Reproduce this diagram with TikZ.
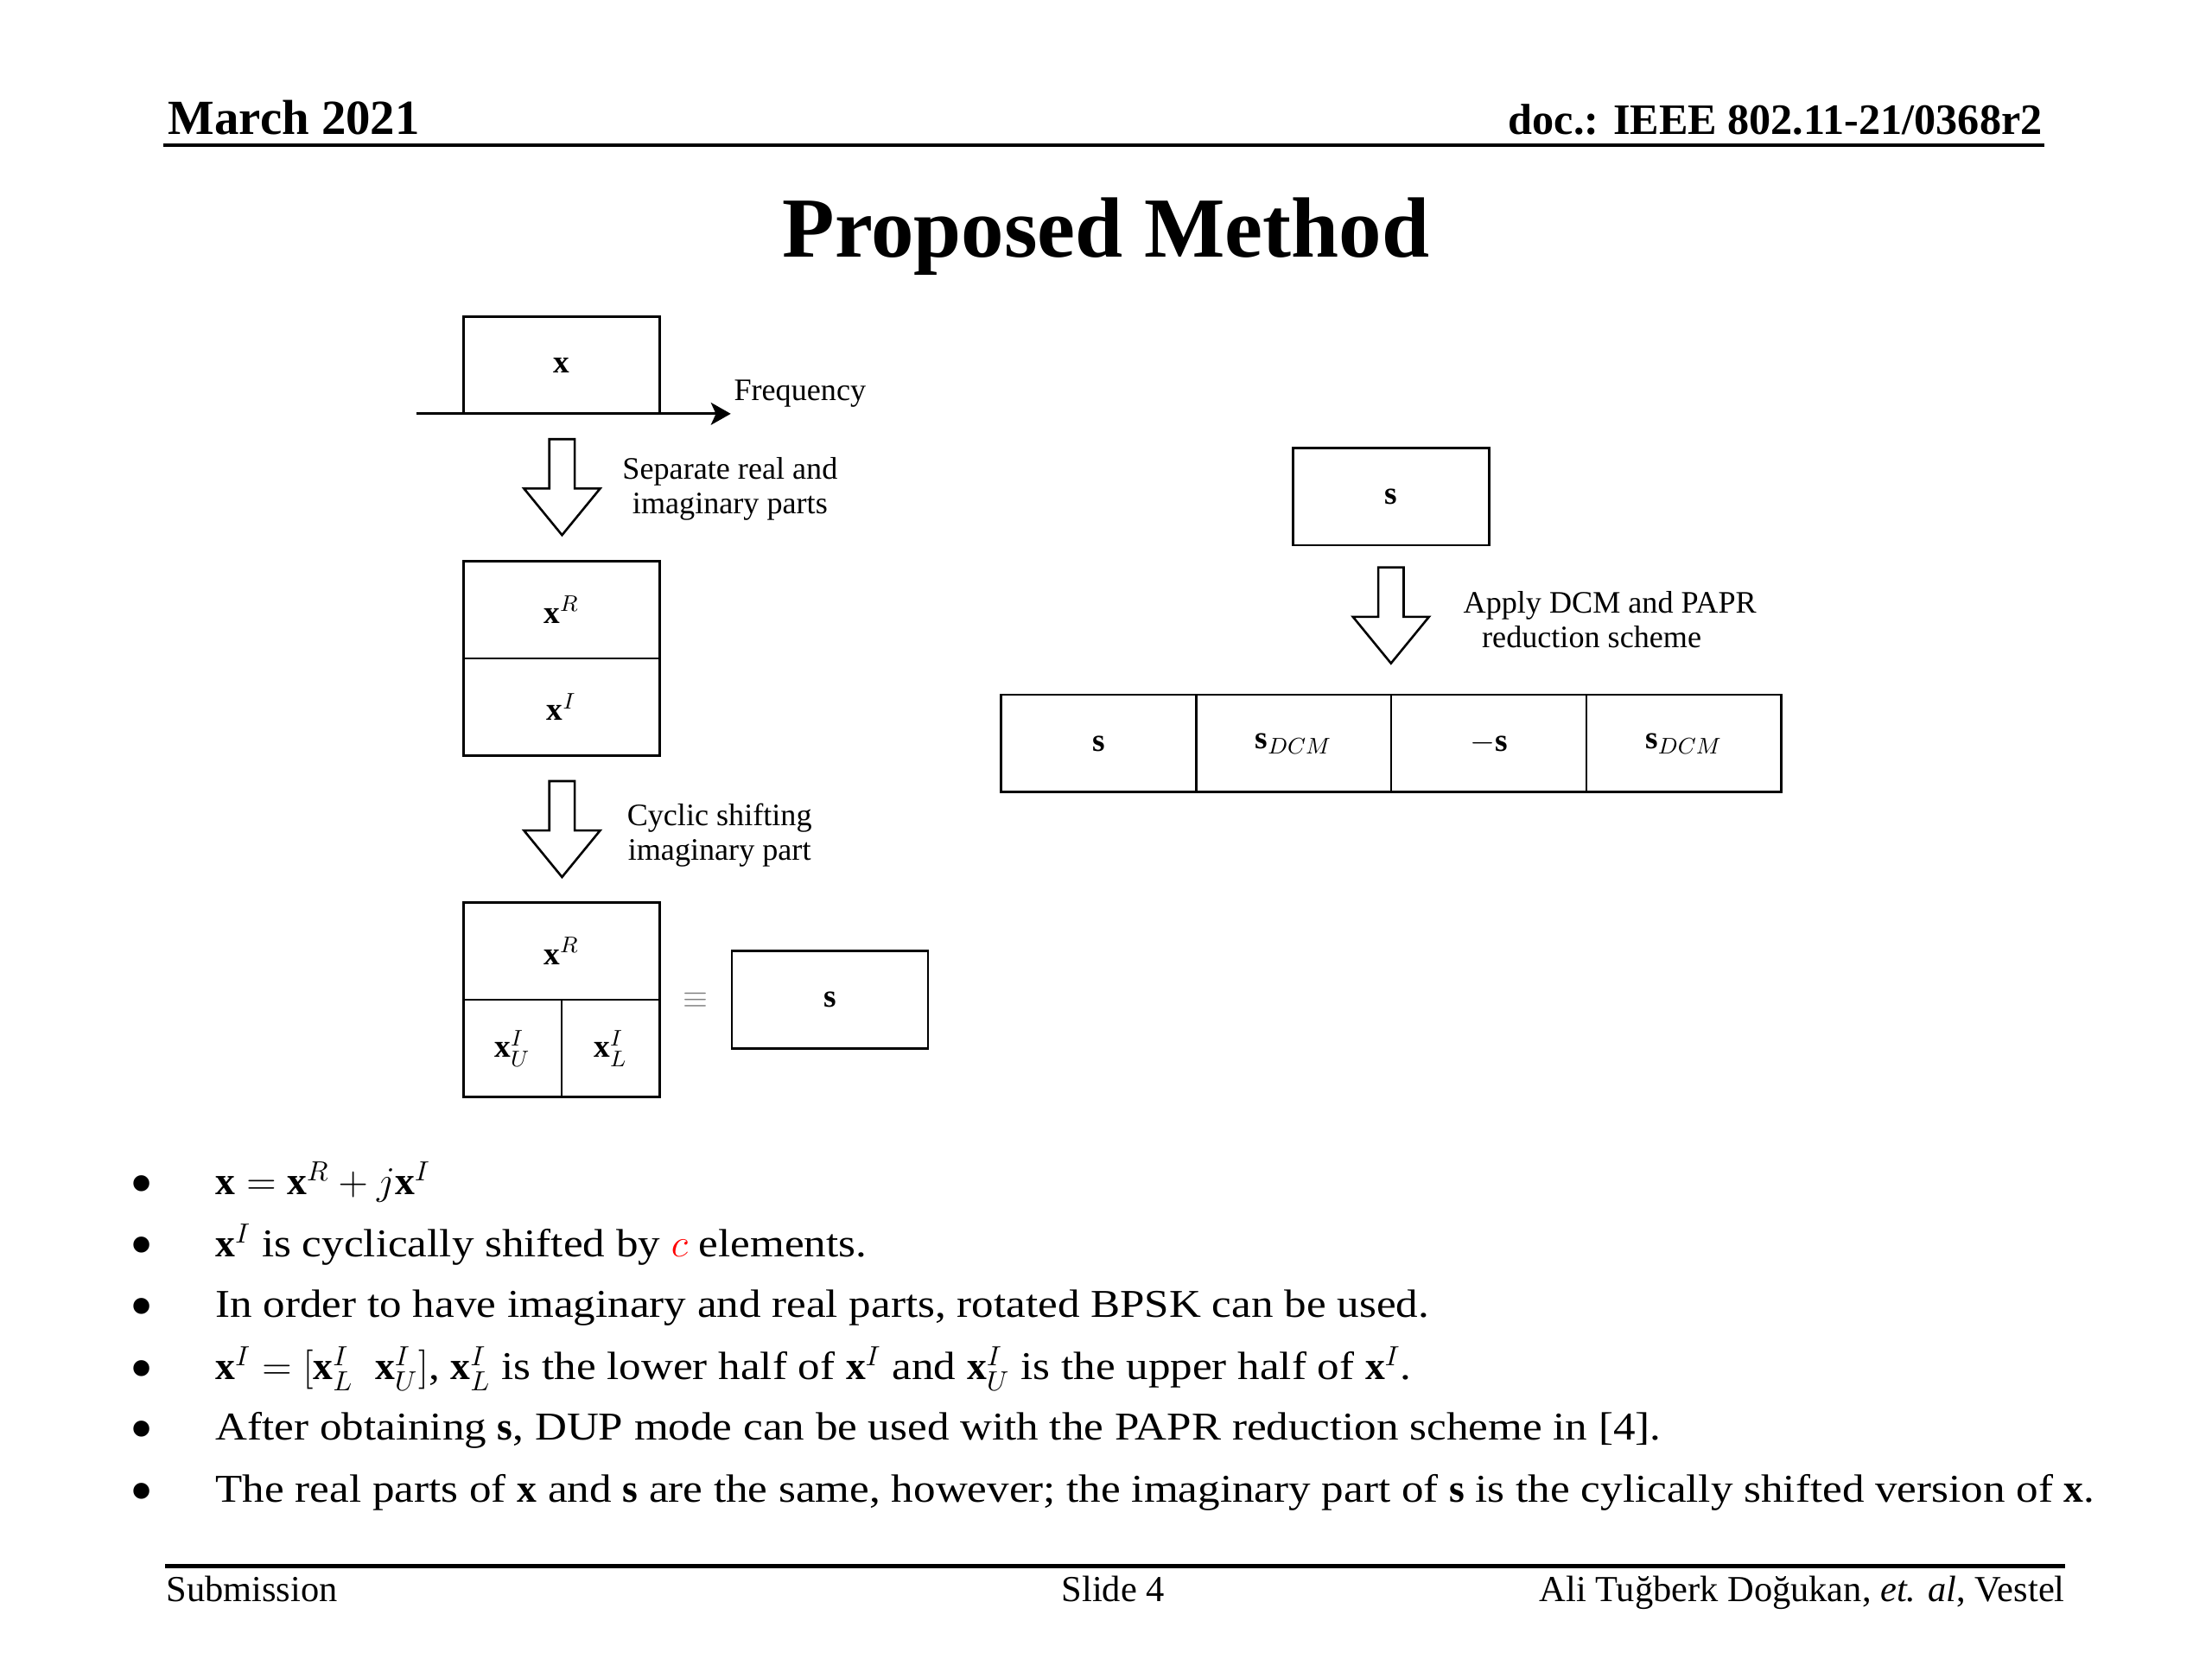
\RequirePackage{fix-cm}
\documentclass[tikz,border=0pt]{standalone}
\usepackage{amsmath,amssymb}
\usepackage{fontspec}
\setmainfont{Liberation Serif}
\newfontfamily\bulletfont[FakeStretch=1.12]{Liberation Serif}
\usetikzlibrary{arrows.meta}

\tikzset{
	dnarrow/.pic={\draw[line width=0.9pt, line join=miter] (-9,0) -- (9,0) -- (9,35) -- (27,35) -- (0,68) -- (-27,35) -- (-9,35) -- cycle;}
}

\begin{document}
\begin{tikzpicture}[x=0.02cm, y=-0.02cm, >={Stealth[length=8pt, width=9pt, inset=2pt]},
	cell/.style={draw, line width=0.9pt, minimum width=2.78cm, minimum height=1.38cm, inner sep=0pt, font=\fontsize{13}{13}\selectfont},
	halfcell/.style={cell, minimum width=1.39cm},
	rowcell/.style={cell, minimum width=2.766cm},
	lbl/.style={align=center, anchor=base, inner sep=0pt, font=\fontsize{12.6}{14}\selectfont},
	btxt/.style={anchor=base west, inner sep=0pt, font=\bulletfont\fontsize{15.9}{18}\selectfont},
	bdot/.style={anchor=base, inner sep=0pt, font=\fontsize{27}{28}\selectfont},
	hdr/.style={inner sep=0pt, font=\fontsize{14.8}{16}\selectfont}]
	\useasboundingbox (0,0) rectangle (1568,1176);
	\node[hdr, anchor=base west, font=\fontsize{19.8}{20}\selectfont\bfseries] (date) at (119,95.5) {March 2021};
	\node[hdr, anchor=base east, font=\fontsize{17.5}{18}\selectfont\bfseries] (doc) at (1448,95.5) {doc.: IEEE 802.11-21/0368r2};
	\draw[line width=1.4pt] (116,103) -- (1449,103);
	\node[anchor=base, font=\fontsize{34.5}{36}\selectfont\bfseries] (title) at (784,182) {Proposed Method};

	\node[cell] (x) at (398,258.8) {$\mathbf{x}$};
	\coordinate (fl) at (295,293.3);
	\coordinate (fr) at (518,293.3);
	\draw[->, line width=1pt] (fl) -- (fr);
	\node[lbl, anchor=base west] (freq) at (520,284) {Frequency};
	\pic at (398.4,311.3) {dnarrow};
	\node[lbl] (sep) at (517.5,364.4) {Separate real and\\imaginary parts};

	\node[cell] (xr) at (398,432.2) {$\mathbf{x}^R$};
	\node[cell] (xi) at (398,501.2) {$\mathbf{x}^I$};
	\pic at (398.4,553.7) {dnarrow};
	\node[lbl] (cyc) at (510,610) {Cyclic shifting\\imaginary part};

	\node[cell] (xr2) at (398,674.1) {$\mathbf{x}^R$};
	\node[halfcell] (xu) at (363.25,743.1) {$\mathbf{x}^I_U$};
	\node[halfcell] (xl) at (432.75,743.1) {$\mathbf{x}^I_L$};
	\node[text=gray, font=\fontsize{13}{13}\selectfont] (eq) at (493,709) {$\equiv$};
	\node[cell] (s) at (588.3,708.6) {$\mathbf{s}$};

	\node[cell] (s2) at (986,352.1) {$\mathbf{s}$};
	\pic at (986,402.2) {dnarrow};
	\node[lbl, align=left, anchor=base west] (dcm) at (1037,459) {Apply DCM and PAPR\\\hspace*{7.5pt}reduction scheme};
	\node[rowcell] (r1) at (778.7,527) {$\mathbf{s}$};
	\node[rowcell] (r2) at (917,527) {$\mathbf{s}_{DCM}$};
	\node[rowcell] (r3) at (1055.3,527) {$-\mathbf{s}$};
	\node[rowcell] (r4) at (1193.6,527) {$\mathbf{s}_{DCM}$};

	\node[bdot] (d1) at (100.5,854.5) {\textbullet};
	\node[bdot] (d2) at (100.5,898.5) {\textbullet};
	\node[bdot] (d3) at (100.5,941.5) {\textbullet};
	\node[bdot] (d4) at (100.5,985.5) {\textbullet};
	\node[bdot] (d5) at (100.5,1028.5) {\textbullet};
	\node[bdot] (d6) at (100.5,1072.5) {\textbullet};
	\node[btxt] (b1) at (152.5,847) {$\mathbf{x}=\mathbf{x}^R+j\mathbf{x}^I$};
	\node[btxt] (b2) at (152.5,891) {$\mathbf{x}^I$ is cyclically shifted by \textcolor{red}{$c$} elements.};
	\node[btxt] (b3) at (152.5,934) {In order to have imaginary and real parts, rotated BPSK can be used.};
	\node[btxt] (b4) at (152.5,978) {$\mathbf{x}^I=[\mathbf{x}^I_L\ \ \mathbf{x}^I_U]$, $\mathbf{x}^I_L$ is the lower half of $\mathbf{x}^I$ and $\mathbf{x}^I_U$ is the upper half of $\mathbf{x}^I$.};
	\node[btxt] (b5) at (152.5,1021) {After obtaining $\mathbf{s}$, DUP mode can be used with the PAPR reduction scheme in [4].};
	\node[btxt] (b6) at (152.5,1065) {The real parts of $\mathbf{x}$ and $\mathbf{s}$ are the same, however; the imaginary part of $\mathbf{s}$ is the cylically shifted version of $\mathbf{x}$.};

	\draw[line width=1.7pt] (117,1110) -- (1464,1110);
	\node[hdr, anchor=base west] (sub) at (117.5,1135) {Submission};
	\node[hdr, anchor=base] (slide) at (789,1135) {Slide 4};
	\node[hdr, anchor=base east] (auth) at (1464,1135) {Ali Tuğberk Doğukan, \textit{et. al}, Vestel};
\end{tikzpicture}
\end{document}
